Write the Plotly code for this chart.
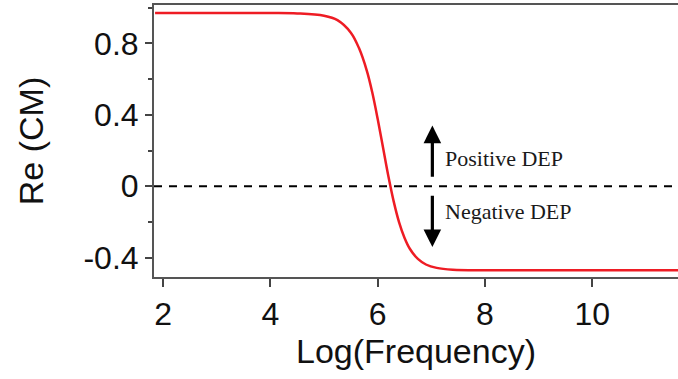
import plotly.graph_objects as go

# Values
log_freq = [1.85, 3.0, 4.0, 4.5, 5.0, 5.25, 5.5, 5.65, 5.8, 5.9, 6.0, 6.1, 6.2, 6.3,
            6.4, 6.5, 6.6, 6.75, 6.9, 7.1, 7.4, 8.0, 9.0, 10.0, 11.0, 11.6]
re_cm = [0.97, 0.97, 0.97, 0.968, 0.955, 0.93, 0.86, 0.775, 0.645, 0.525, 0.378,
         0.217, 0.056, -0.086, -0.202, -0.288, -0.350, -0.407, -0.438, -0.457,
         -0.467, -0.47, -0.47, -0.47, -0.47, -0.47]
x_ticks = [2, 4, 6, 8, 10]
y_ticks = [-0.4, 0, 0.4, 0.8]
y_tick_labels = ["-0.4", "0", "0.4", "0.8"]
zero_line_x = [1.83, 11.6]
zero_line_y = [0, 0]

fig = go.Figure()
fig.add_trace(go.Scatter(x=zero_line_x, y=zero_line_y, mode="lines",
                         line=dict(color="black", width=2.2, dash="8px,7px"),
                         hoverinfo="skip", showlegend=False))
fig.add_trace(go.Scatter(x=log_freq, y=re_cm, mode="lines", line_shape="spline",
                         line=dict(color="#ee1c24", width=2.5), showlegend=False))

# arrows
fig.add_annotation(x=7.02, y=0.34, ax=7.02, ay=0.045, xref="x", yref="y",
                   axref="x", ayref="y", text="", showarrow=True,
                   arrowhead=2, arrowsize=1.1, arrowwidth=3.2, arrowcolor="black")
fig.add_annotation(x=7.02, y=-0.34, ax=7.02, ay=-0.045, xref="x", yref="y",
                   axref="x", ayref="y", text="", showarrow=True,
                   arrowhead=2, arrowsize=1.1, arrowwidth=3.2, arrowcolor="black")
fig.add_annotation(x=7.22, y=0.157, text="Positive DEP", showarrow=False,
                   xanchor="left", yanchor="middle",
                   font=dict(family="Liberation Serif", size=22, color="#1a1a1a"))
fig.add_annotation(x=7.22, y=-0.14, text="Negative DEP", showarrow=False,
                   xanchor="left", yanchor="middle",
                   font=dict(family="Liberation Serif", size=22, color="#1a1a1a"))

axis_font = dict(family="Liberation Sans", size=32, color="#111")
title_font = dict(family="Liberation Sans", size=34, color="#111")
fig.update_layout(
    width=678, height=379,
    margin=dict(l=154, r=0, t=5, b=102),
    paper_bgcolor="white", plot_bgcolor="white",
    xaxis=dict(range=[1.83, 11.6], tickvals=x_ticks, ticks="outside", ticklen=8,
               tickwidth=1.5, tickcolor="#444", showline=True, linecolor="#555",
               linewidth=2, mirror=True, showgrid=False, zeroline=False,
               tickfont=axis_font,
               title=dict(text="Log(Frequency)", font=title_font, standoff=2)),
    yaxis=dict(range=[-0.508, 1.015], tickvals=y_ticks, ticktext=y_tick_labels,
               ticks="outside", ticklen=7, tickwidth=1.5, tickcolor="#444",
               minor=dict(tickvals=[-0.2, 0.2, 0.6, 1.0], ticks="outside", ticklen=4, tickcolor="#444"),
               showline=True, linecolor="#555", linewidth=2, mirror=False,
               showgrid=False, zeroline=False, tickfont=axis_font,
               title=dict(text="Re (CM)", font=title_font, standoff=30)),
)
fig.write_html("out.html")
